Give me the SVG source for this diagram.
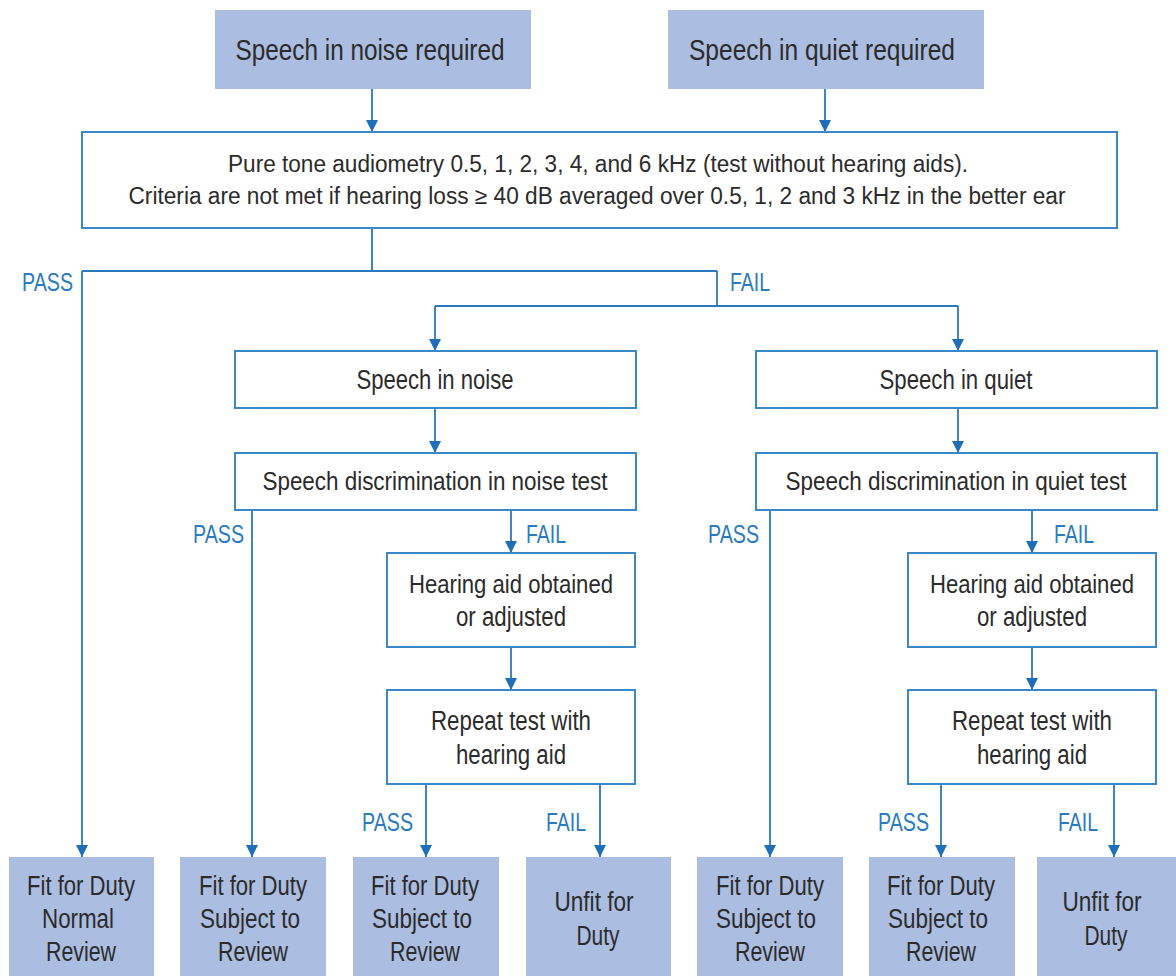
<svg xmlns="http://www.w3.org/2000/svg" width="1176" height="976" viewBox="0 0 1176 976">
  <defs>
    <marker id="arrow" markerUnits="userSpaceOnUse" markerWidth="12" markerHeight="12" viewBox="0 0 12 12" refX="12" refY="6" orient="auto">
      <path d="M0,0 L12,6 L0,12 Z" fill="#1f6fb8"/>
    </marker>
    <style>
      .start { fill: #abbde0; stroke: none; }
      .step { fill: #ffffff; stroke: #3b88c9; stroke-width: 2; }
      .end { fill: #abbde0; stroke: none; }
      .t { font-family: "Liberation Sans Narrow", "Liberation Sans", Arial, sans-serif; fill: #2b2b2b; text-anchor: middle; }
      .big { font-size: 29px; }
      .mid { font-size: 27px; }
      .mid.long { font-size: 25.5px; }
      .small { font-size: 23.5px; }
      .lbl { font-family: "Liberation Sans Narrow", "Liberation Sans", Arial, sans-serif; fill: #2a7bc0; font-size: 25px; }
      .wire { fill: none; stroke: #2a78bd; stroke-width: 1.8; }
      .arr { marker-end: url(#arrow); }
    </style>
  </defs>
  <rect width="1176" height="976" fill="#ffffff"/>

  <!-- connectors -->
  <g id="connectors">
    <path class="wire arr" d="M372,89 V132"/>
    <path class="wire arr" d="M825,89 V132"/>
    <path class="wire" d="M372,228 V271"/>
    <path class="wire arr" d="M82,271 H717 M82,271 V857"/>
    <path class="wire" d="M717,271 V306 M435,306 H958"/>
    <path class="wire arr" d="M435,306 V351"/>
    <path class="wire arr" d="M958,306 V351"/>
    <path class="wire arr" d="M435,408 V453"/>
    <path class="wire arr" d="M958,408 V453"/>
    <path class="wire arr" d="M252,510 V857"/>
    <path class="wire arr" d="M511,510 V553"/>
    <path class="wire arr" d="M511,647 V690"/>
    <path class="wire arr" d="M426,784 V857"/>
    <path class="wire arr" d="M600,784 V857"/>
    <path class="wire arr" d="M770,510 V857"/>
    <path class="wire arr" d="M1032,510 V553"/>
    <path class="wire arr" d="M1032,647 V690"/>
    <path class="wire arr" d="M941,784 V857"/>
    <path class="wire arr" d="M1114,784 V857"/>

    <text class="lbl" x="22" y="291" textLength="51" lengthAdjust="spacingAndGlyphs">PASS</text>
    <text class="lbl" x="730" y="291" textLength="40" lengthAdjust="spacingAndGlyphs">FAIL</text>
    <text class="lbl" x="193" y="543" textLength="51" lengthAdjust="spacingAndGlyphs">PASS</text>
    <text class="lbl" x="526" y="543" textLength="40" lengthAdjust="spacingAndGlyphs">FAIL</text>
    <text class="lbl" x="708" y="543" textLength="51" lengthAdjust="spacingAndGlyphs">PASS</text>
    <text class="lbl" x="1054" y="543" textLength="40" lengthAdjust="spacingAndGlyphs">FAIL</text>
    <text class="lbl" x="362" y="831" textLength="51" lengthAdjust="spacingAndGlyphs">PASS</text>
    <text class="lbl" x="546" y="831" textLength="40" lengthAdjust="spacingAndGlyphs">FAIL</text>
    <text class="lbl" x="878" y="831" textLength="51" lengthAdjust="spacingAndGlyphs">PASS</text>
    <text class="lbl" x="1058" y="831" textLength="40" lengthAdjust="spacingAndGlyphs">FAIL</text>
  </g>

  <!-- entry requirements -->
  <g id="noise-required">
    <rect class="start" x="215" y="10" width="316" height="79"/>
    <text class="t big" x="370" y="60" textLength="269" lengthAdjust="spacingAndGlyphs">Speech in noise required</text>
  </g>
  <g id="quiet-required">
    <rect class="start" x="668" y="10" width="316" height="79"/>
    <text class="t big" x="822" y="60" textLength="266" lengthAdjust="spacingAndGlyphs">Speech in quiet required</text>
  </g>

  <!-- audiometry -->
  <g id="audiometry">
    <rect class="step" x="82" y="132" width="1035" height="96"/>
    <text class="t small" x="598" y="172" textLength="740" lengthAdjust="spacingAndGlyphs">Pure tone audiometry 0.5, 1, 2, 3, 4, and 6 kHz (test without hearing aids).</text>
    <text class="t small" x="597" y="204" textLength="937" lengthAdjust="spacingAndGlyphs">Criteria are not met if hearing loss ≥ 40 dB averaged over 0.5, 1, 2 and 3 kHz in the better ear</text>
  </g>

  <!-- noise branch -->
  <g id="speech-noise">
    <rect class="step" x="235" y="351" width="401" height="57"/>
    <text class="t mid" x="435" y="389" textLength="157" lengthAdjust="spacingAndGlyphs">Speech in noise</text>
  </g>
  <g id="noise-test">
    <rect class="step" x="235" y="453" width="401" height="57"/>
    <text class="t mid long" x="435" y="490" textLength="345" lengthAdjust="spacingAndGlyphs">Speech discrimination in noise test</text>
  </g>
  <g id="noise-aid">
    <rect class="step" x="387" y="553" width="248" height="94"/>
    <text class="t mid long" x="511" y="593" textLength="204" lengthAdjust="spacingAndGlyphs">Hearing aid obtained</text>
    <text class="t mid" x="511" y="626" textLength="110" lengthAdjust="spacingAndGlyphs">or adjusted</text>
  </g>
  <g id="noise-repeat">
    <rect class="step" x="387" y="690" width="248" height="94"/>
    <text class="t mid" x="511" y="730" textLength="160" lengthAdjust="spacingAndGlyphs">Repeat test with</text>
    <text class="t mid" x="511" y="764" textLength="110" lengthAdjust="spacingAndGlyphs">hearing aid</text>
  </g>

  <!-- quiet branch -->
  <g id="speech-quiet">
    <rect class="step" x="756" y="351" width="401" height="57"/>
    <text class="t mid" x="956" y="389" textLength="153" lengthAdjust="spacingAndGlyphs">Speech in quiet</text>
  </g>
  <g id="quiet-test">
    <rect class="step" x="756" y="453" width="401" height="57"/>
    <text class="t mid long" x="956" y="490" textLength="341" lengthAdjust="spacingAndGlyphs">Speech discrimination in quiet test</text>
  </g>
  <g id="quiet-aid">
    <rect class="step" x="908" y="553" width="248" height="94"/>
    <text class="t mid long" x="1032" y="593" textLength="204" lengthAdjust="spacingAndGlyphs">Hearing aid obtained</text>
    <text class="t mid" x="1032" y="626" textLength="110" lengthAdjust="spacingAndGlyphs">or adjusted</text>
  </g>
  <g id="quiet-repeat">
    <rect class="step" x="908" y="690" width="248" height="94"/>
    <text class="t mid" x="1032" y="730" textLength="160" lengthAdjust="spacingAndGlyphs">Repeat test with</text>
    <text class="t mid" x="1032" y="764" textLength="110" lengthAdjust="spacingAndGlyphs">hearing aid</text>
  </g>

  <!-- outcomes -->
  <g id="outcome-1">
    <rect class="end" x="9" y="857" width="145" height="125"/>
    <text class="t mid" x="81" y="895" textLength="108" lengthAdjust="spacingAndGlyphs">Fit for Duty</text>
    <text class="t mid" x="78" y="928" textLength="72" lengthAdjust="spacingAndGlyphs">Normal</text>
    <text class="t mid" x="81" y="961" textLength="70" lengthAdjust="spacingAndGlyphs">Review</text>
  </g>
  <g id="outcome-2">
    <rect class="end" x="180" y="857" width="146" height="125"/>
    <text class="t mid" x="253" y="895" textLength="108" lengthAdjust="spacingAndGlyphs">Fit for Duty</text>
    <text class="t mid" x="250" y="928" textLength="100" lengthAdjust="spacingAndGlyphs">Subject to</text>
    <text class="t mid" x="253" y="961" textLength="70" lengthAdjust="spacingAndGlyphs">Review</text>
  </g>
  <g id="outcome-3">
    <rect class="end" x="353" y="857" width="146" height="125"/>
    <text class="t mid" x="425" y="895" textLength="108" lengthAdjust="spacingAndGlyphs">Fit for Duty</text>
    <text class="t mid" x="422" y="928" textLength="100" lengthAdjust="spacingAndGlyphs">Subject to</text>
    <text class="t mid" x="425" y="961" textLength="70" lengthAdjust="spacingAndGlyphs">Review</text>
  </g>
  <g id="outcome-4">
    <rect class="end" x="526" y="857" width="145" height="125"/>
    <text class="t mid" x="594" y="911" textLength="79" lengthAdjust="spacingAndGlyphs">Unfit for</text>
    <text class="t mid" x="598" y="945" textLength="43" lengthAdjust="spacingAndGlyphs">Duty</text>
  </g>
  <g id="outcome-5">
    <rect class="end" x="697" y="857" width="146" height="125"/>
    <text class="t mid" x="770" y="895" textLength="108" lengthAdjust="spacingAndGlyphs">Fit for Duty</text>
    <text class="t mid" x="766" y="928" textLength="100" lengthAdjust="spacingAndGlyphs">Subject to</text>
    <text class="t mid" x="770" y="961" textLength="70" lengthAdjust="spacingAndGlyphs">Review</text>
  </g>
  <g id="outcome-6">
    <rect class="end" x="869" y="857" width="146" height="125"/>
    <text class="t mid" x="941" y="895" textLength="108" lengthAdjust="spacingAndGlyphs">Fit for Duty</text>
    <text class="t mid" x="938" y="928" textLength="100" lengthAdjust="spacingAndGlyphs">Subject to</text>
    <text class="t mid" x="941" y="961" textLength="70" lengthAdjust="spacingAndGlyphs">Review</text>
  </g>
  <g id="outcome-7">
    <rect class="end" x="1037" y="857" width="145" height="125"/>
    <text class="t mid" x="1102" y="911" textLength="79" lengthAdjust="spacingAndGlyphs">Unfit for</text>
    <text class="t mid" x="1106" y="945" textLength="43" lengthAdjust="spacingAndGlyphs">Duty</text>
  </g>
</svg>
